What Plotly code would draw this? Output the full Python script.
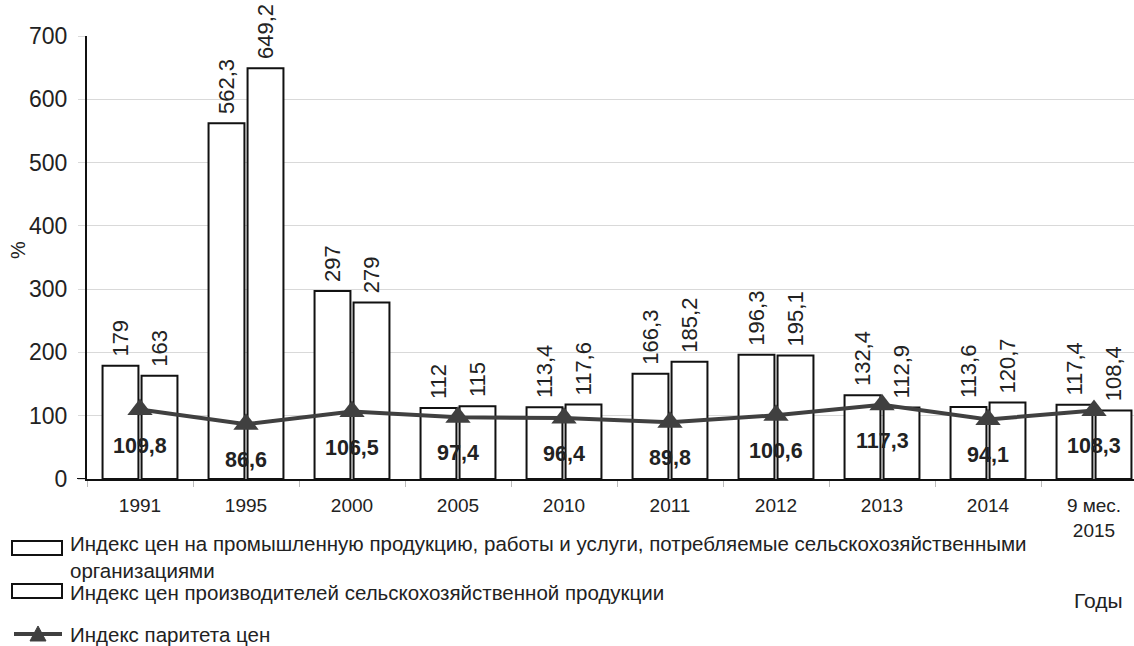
import plotly.graph_objects as go

categories = ["1991", "1995", "2000", "2005", "2010", "2011", "2012", "2013", "2014", "9 мес.<br>2015"]
industrial_index = [179, 562.3, 297, 112, 113.4, 166.3, 196.3, 132.4, 113.6, 117.4]
agri_index = [163, 649.2, 279, 115, 117.6, 185.2, 195.1, 112.9, 120.7, 108.4]
parity_index = [109.8, 86.6, 106.5, 97.4, 96.4, 89.8, 100.6, 117.3, 94.1, 108.3]

legend_names = [
    "Индекс цен на промышленную продукцию, работы и услуги, потребляемые сельскохозяйственными<br>организациями",
    "Индекс цен производителей сельскохозяйственной продукции",
    "Индекс паритета цен",
]

W, H = 1134, 646
ML, MR, MT, MB = 87, 0, 36, 167
PW, PH = W - ML - MR, H - MT - MB
FONT = "Liberation Sans, Arial, sans-serif"
DARK = "#404040"


def fmt(v):
    s = ("%.1f" % v).replace(".", ",")
    return s[:-2] if s.endswith(",0") else s


def px(x):
    return (x - ML) / PW


def py(y):
    return (H - MB - y) / PH


fig = go.Figure()
for vals in (industrial_index, agri_index):
    fig.add_trace(go.Bar(
        x=categories, y=vals,
        text=[" " + fmt(v) for v in vals],
        textposition="outside", textangle=-90,
        textfont=dict(family=FONT, size=22, color="#222"),
        constraintext="none", cliponaxis=False,
        marker=dict(color="white", line=dict(color="#111", width=2)),
        showlegend=False,
    ))

fig.add_trace(go.Scatter(
    x=categories, y=parity_index, mode="lines+markers",
    line=dict(color=DARK, width=4),
    marker=dict(symbol="triangle-up", size=22, color=DARK),
    showlegend=False, cliponaxis=False,
))

annotations = []
for i, v in enumerate(parity_index):
    annotations.append(dict(
        x=i, y=v, xref="x", yref="y", text="<b>" + fmt(v) + "</b>",
        showarrow=False, yshift=-36,
        font=dict(family=FONT, size=21.5, color="#222"),
    ))

leg_font = dict(family=FONT, size=20.5, color="#222")
annotations += [
    dict(x=px(68), y=py(557), xref="paper", yref="paper", text=legend_names[0],
         showarrow=False, xanchor="left", yanchor="middle", align="left", font=leg_font),
    dict(x=px(68), y=py(592), xref="paper", yref="paper", text=legend_names[1],
         showarrow=False, xanchor="left", yanchor="middle", align="left", font=leg_font),
    dict(x=px(68), y=py(634), xref="paper", yref="paper", text=legend_names[2],
         showarrow=False, xanchor="left", yanchor="middle", align="left", font=leg_font),
    dict(x=px(1098), y=py(600), xref="paper", yref="paper", text="Годы",
         showarrow=False, xanchor="center", yanchor="middle", font=dict(family=FONT, size=21, color="#222")),
    dict(x=px(18), y=py(250), xref="paper", yref="paper", text="%", textangle=-90,
         showarrow=False, xanchor="center", yanchor="middle", font=dict(family=FONT, size=20, color="#222")),
]

shapes = [
    dict(type="rect", xref="paper", yref="paper", x0=px(12), x1=px(62), y0=py(541), y1=py(555),
         line=dict(color="#111", width=2), fillcolor="white"),
    dict(type="rect", xref="paper", yref="paper", x0=px(12), x1=px(62), y0=py(584), y1=py(598),
         line=dict(color="#111", width=2), fillcolor="white"),
    dict(type="line", xref="paper", yref="paper", x0=px(14), x1=px(62), y0=py(634), y1=py(634),
         line=dict(color=DARK, width=4)),
    dict(type="path", xref="paper", yref="paper",
         path="M %f %f L %f %f L %f %f Z" % (px(30), py(641), px(46), py(641), px(38), py(626)),
         line=dict(color=DARK, width=1), fillcolor=DARK),
    dict(type="line", xref="paper", yref="y", x0=px(77), x1=px(87), y0=0, y1=0,
         line=dict(color="#111", width=2)),
]

fig.update_layout(
    width=W, height=H,
    margin=dict(l=ML, r=MR, t=MT, b=MB, autoexpand=False),
    paper_bgcolor="white", plot_bgcolor="white",
    barmode="group", bargap=0.264, bargroupgap=0.08,
    font=dict(family=FONT, color="#222"),
    annotations=annotations, shapes=shapes,
    xaxis=dict(
        type="category", range=[-0.5, -0.5 + PW / 106.0],
        showline=True, linecolor="#111", linewidth=2,
        ticks="outside", tickson="boundaries", ticklen=6, tickcolor="#bbb",
        tickfont=dict(family=FONT, size=19, color="#222"),
        ticklabelstandoff=8, showgrid=False,
    ),
    yaxis=dict(
        range=[0, 700], dtick=100,
        showline=True, linecolor="#111", linewidth=2,
        showgrid=True, gridcolor="#d9d9d9", gridwidth=1,
        ticks="outside", ticklen=7, tickcolor="#d9d9d9",
        tickfont=dict(family=FONT, size=23, color="#222"),
        ticklabelstandoff=6, zeroline=False,
    ),
)

fig.write_html("out.html", config={"displayModeBar": False},
               post_script="document.body.style.margin='0';document.body.style.padding='0';")
